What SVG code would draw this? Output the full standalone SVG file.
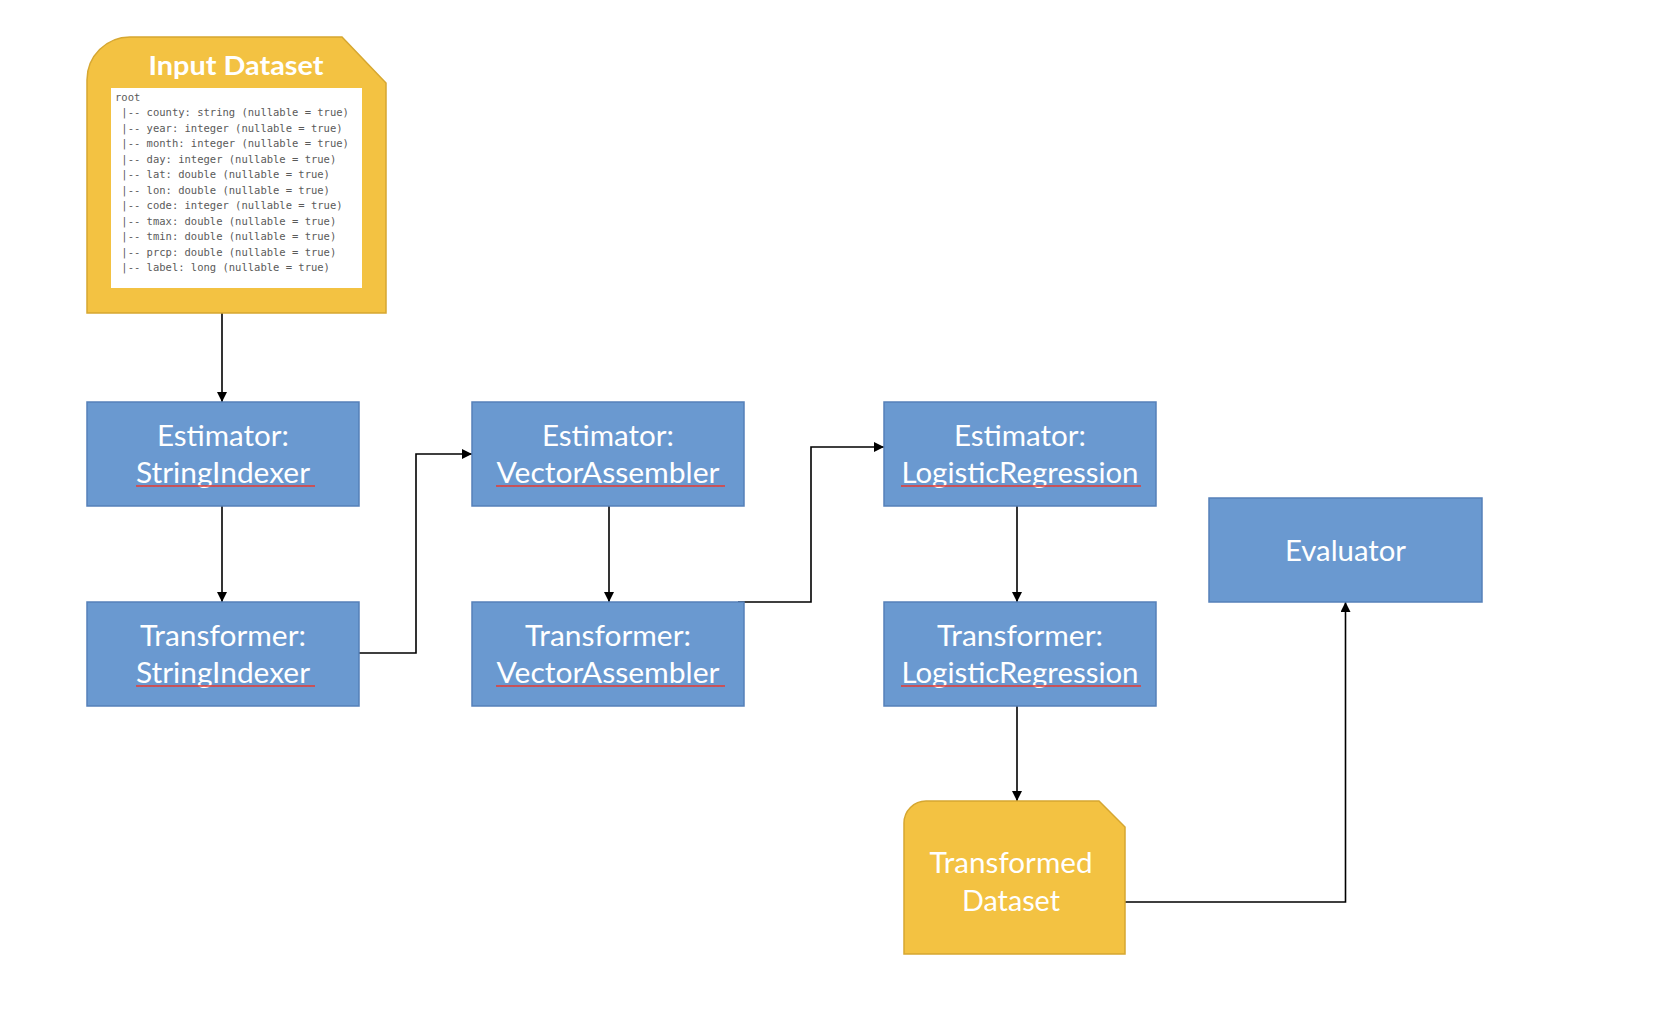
<svg xmlns="http://www.w3.org/2000/svg" width="1668" height="1014" viewBox="0 0 1668 1014">
<defs>
<style>
.box{fill:#6A99D0;stroke:#5580B9;stroke-width:1.5}
.data{fill:#F3C242;stroke:#D6A731;stroke-width:1.5}
.lbl{font-family:Lato,"Liberation Sans",Arial,sans-serif;font-size:28px;fill:#FFFFFF;text-anchor:middle}
.title{font-family:Lato,"Liberation Sans",Arial,sans-serif;font-size:27px;font-weight:bold;fill:#FFFFFF;text-anchor:middle}
.mono{font-family:"DejaVu Sans Mono","Liberation Mono",monospace;font-size:10.5px;fill:#5A5A5A;white-space:pre}
.conn{fill:none;stroke:#000000;stroke-width:1.6}
.sq{fill:url(#squig)}
</style>
<marker id="arr" viewBox="0 0 10 10" refX="10" refY="5" markerWidth="10" markerHeight="10" markerUnits="userSpaceOnUse" orient="auto">
<path d="M0,0 L10,5 L0,10 Z" fill="#000000"/>
</marker>
<pattern id="squig" x="0" y="0" width="4" height="4" patternUnits="userSpaceOnUse">
<path d="M0,3 L1,1 L2,3 L3,1 L4,3" fill="none" stroke="#E0403A" stroke-width="1"/>
</pattern>
</defs>
<rect width="1668" height="1014" fill="#FFFFFF"/>

<g id="connectors">
<path class="conn" d="M222,313 V402" marker-end="url(#arr)"/>
<path class="conn" d="M222,506 V602" marker-end="url(#arr)"/>
<path class="conn" d="M359,653 H416 V454 H472" marker-end="url(#arr)"/>
<path class="conn" d="M609,506 V602" marker-end="url(#arr)"/>
<path class="conn" d="M738,602 H811 V447 H884" marker-end="url(#arr)"/>
<path class="conn" d="M1017,506 V602" marker-end="url(#arr)"/>
<path class="conn" d="M1017,706 V801" marker-end="url(#arr)"/>
<path class="conn" d="M1125,902 H1345.5 V602" marker-end="url(#arr)"/>
</g>

<g id="input-dataset">
<path class="data" d="M87,80 A43,43 0 0 1 130,37 L342,37 L386,83 L386,313 L87,313 Z"/>
<text class="title" x="236" y="75" textLength="175" lengthAdjust="spacingAndGlyphs">Input Dataset</text>
<rect x="111" y="88" width="251" height="200" fill="#FFFFFF"/>
<text class="mono" x="115" y="100.5">root</text>
<text class="mono" x="115" y="116"> |-- county: string (nullable = true)</text>
<text class="mono" x="115" y="131.5"> |-- year: integer (nullable = true)</text>
<text class="mono" x="115" y="147"> |-- month: integer (nullable = true)</text>
<text class="mono" x="115" y="162.5"> |-- day: integer (nullable = true)</text>
<text class="mono" x="115" y="178"> |-- lat: double (nullable = true)</text>
<text class="mono" x="115" y="193.5"> |-- lon: double (nullable = true)</text>
<text class="mono" x="115" y="209"> |-- code: integer (nullable = true)</text>
<text class="mono" x="115" y="224.5"> |-- tmax: double (nullable = true)</text>
<text class="mono" x="115" y="240"> |-- tmin: double (nullable = true)</text>
<text class="mono" x="115" y="255.5"> |-- prcp: double (nullable = true)</text>
<text class="mono" x="115" y="271"> |-- label: long (nullable = true)</text>
</g>

<g id="estimator-stringindexer">
<rect class="box" x="87" y="402" width="272" height="104"/>
<text class="lbl" x="223" y="446" textLength="132" lengthAdjust="spacingAndGlyphs">Estimator:</text>
<text class="lbl" x="223" y="483" textLength="174" lengthAdjust="spacingAndGlyphs">StringIndexer</text>
<rect class="sq" x="136" y="484" width="179" height="4"/>
</g>

<g id="transformer-stringindexer">
<rect class="box" x="87" y="602" width="272" height="104"/>
<text class="lbl" x="223" y="646" textLength="166" lengthAdjust="spacingAndGlyphs">Transformer:</text>
<text class="lbl" x="223" y="683" textLength="174" lengthAdjust="spacingAndGlyphs">StringIndexer</text>
<rect class="sq" x="136" y="684" width="179" height="4"/>
</g>

<g id="estimator-vectorassembler">
<rect class="box" x="472" y="402" width="272" height="104"/>
<text class="lbl" x="608" y="446" textLength="132" lengthAdjust="spacingAndGlyphs">Estimator:</text>
<text class="lbl" x="608" y="483" textLength="223" lengthAdjust="spacingAndGlyphs">VectorAssembler</text>
<rect class="sq" x="496" y="484" width="229" height="4"/>
</g>

<g id="transformer-vectorassembler">
<rect class="box" x="472" y="602" width="272" height="104"/>
<text class="lbl" x="608" y="646" textLength="166" lengthAdjust="spacingAndGlyphs">Transformer:</text>
<text class="lbl" x="608" y="683" textLength="223" lengthAdjust="spacingAndGlyphs">VectorAssembler</text>
<rect class="sq" x="496" y="684" width="229" height="4"/>
</g>

<g id="estimator-logisticregression">
<rect class="box" x="884" y="402" width="272" height="104"/>
<text class="lbl" x="1020" y="446" textLength="132" lengthAdjust="spacingAndGlyphs">Estimator:</text>
<text class="lbl" x="1020" y="483" textLength="237" lengthAdjust="spacingAndGlyphs">LogisticRegression</text>
<rect class="sq" x="901" y="484" width="240" height="4"/>
</g>

<g id="transformer-logisticregression">
<rect class="box" x="884" y="602" width="272" height="104"/>
<text class="lbl" x="1020" y="646" textLength="166" lengthAdjust="spacingAndGlyphs">Transformer:</text>
<text class="lbl" x="1020" y="683" textLength="237" lengthAdjust="spacingAndGlyphs">LogisticRegression</text>
<rect class="sq" x="901" y="684" width="240" height="4"/>
</g>

<g id="evaluator">
<rect class="box" x="1209" y="498" width="273" height="104"/>
<text class="lbl" x="1345.5" y="561" textLength="121" lengthAdjust="spacingAndGlyphs">Evaluator</text>
</g>

<g id="transformed-dataset">
<path class="data" d="M904,823 A22,22 0 0 1 926,801 L1099,801 L1125,827 L1125,954 L904,954 Z"/>
<text class="lbl" x="1011" y="873" textLength="163" lengthAdjust="spacingAndGlyphs">Transformed</text>
<text class="lbl" x="1011" y="911" textLength="98" lengthAdjust="spacingAndGlyphs">Dataset</text>
</g>
</svg>
